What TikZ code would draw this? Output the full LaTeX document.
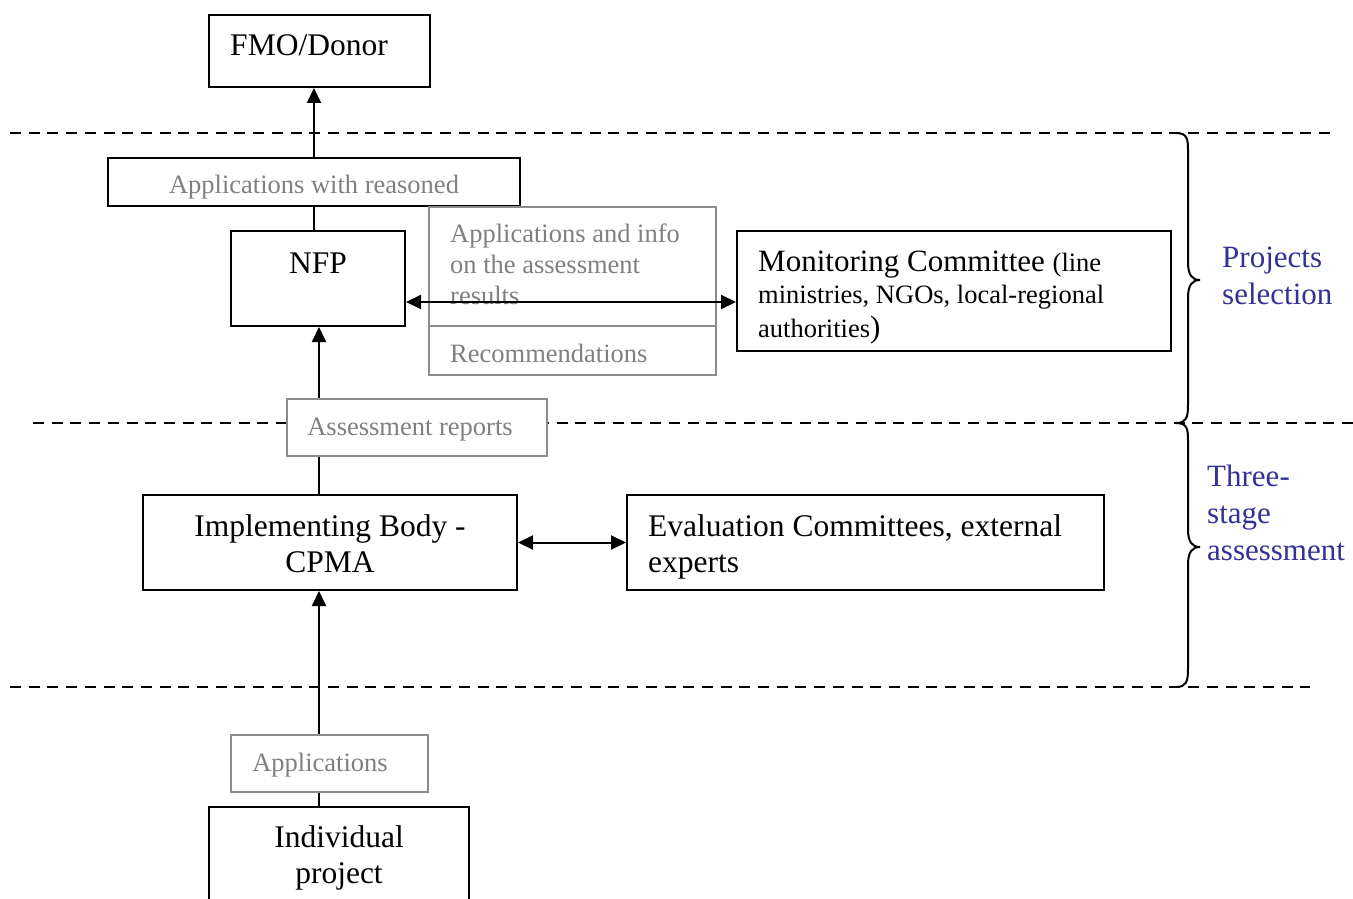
\documentclass[tikz,border=0pt]{standalone}
\usepackage{fontspec}
\setmainfont{Liberation Serif}
\usetikzlibrary{arrows.meta,backgrounds}
\definecolor{lblgray}{RGB}{128,128,128}
\definecolor{boxgray}{RGB}{140,140,140}
\definecolor{navyblue}{RGB}{50,50,150}
\tikzset{
  blackbox/.style={draw=black, line width=2pt, inner sep=0pt},
  graybox/.style={draw=boxgray, line width=1.8pt, inner sep=0pt},
  whitefill/.style={fill=white},
  bigtxt/.style={inner sep=0pt, font=\fontsize{31.5}{36}\selectfont},
  midtxt/.style={inner sep=0pt, font=\fontsize{26.5}{31}\selectfont},
  graytxt/.style={inner sep=0pt, text=lblgray, font=\fontsize{26.5}{31}\selectfont},
  bluetxt/.style={inner sep=0pt, text=navyblue, font=\fontsize{31}{36}\selectfont},
  sepline/.style={line width=2.5pt, dash pattern=on 11pt off 7.7pt},
  conn/.style={line width=2pt},
  arr/.style={conn, -{Triangle[length=15pt,width=14pt]}},
  dblarr/.style={conn, {Triangle[length=15pt,width=14pt]}-{Triangle[length=15pt,width=14pt]}},
  bracepath/.style={line width=2pt}
}
\begin{document}
\begin{tikzpicture}[x=1pt,y=-1pt]
\useasboundingbox (0,0) rectangle (1353,899);
\clip (0,0) rectangle (1353,899);

% boxes
\node[blackbox, minimum width=221pt, minimum height=72pt] (fmo) at (319.5,51) {};
\node[blackbox, whitefill, minimum width=412pt, minimum height=48pt] (reasoned) at (314,182) {};
\node[blackbox, minimum width=174pt, minimum height=95pt] (nfp) at (318,278.5) {};
\node[graybox, minimum width=287pt, minimum height=119pt] (info) at (572.5,266.5) {};
\node[graybox, minimum width=287pt, minimum height=49pt] (rec) at (572.5,350.5) {};
\node[blackbox, minimum width=434pt, minimum height=120pt] (mon) at (954,291) {};
\node[graybox, whitefill, minimum width=260pt, minimum height=57pt] (assess) at (417,427.5) {};
\node[blackbox, minimum width=374pt, minimum height=95pt] (impl) at (330,542.5) {};
\node[blackbox, minimum width=477pt, minimum height=95pt] (eval) at (865.5,542.5) {};
\node[graybox, whitefill, minimum width=197pt, minimum height=57pt] (apps) at (329.5,763.5) {};
\node[blackbox, minimum width=260pt, minimum height=113pt] (indiv) at (339,863.5) {};

\coordinate (col) at (319,0);
\coordinate (row) at (0,302);

% background: separators and vertical connectors
\begin{scope}[on background layer]
  \fill[white] (0,0) rectangle (1353,899);
  \draw[sepline] (10,133) -- (1330,133);
  \draw[sepline] (33,423) -- (1353,423);
  \draw[sepline] (10,687) -- (1310,687);
  \draw[arr] (reasoned.north) -- (reasoned.north |- fmo.south);
  \draw[conn] (reasoned.south) -- (reasoned.south |- nfp.north);
  \draw[arr] (col |- assess.north) -- (col |- nfp.south);
  \draw[conn] (col |- assess.south) -- (col |- impl.north);
  \draw[arr] (col |- apps.north) -- (col |- impl.south);
  \draw[conn] (col |- apps.south) -- (col |- indiv.north);
\end{scope}

% texts
\node[bigtxt, anchor=base] (tfmo) at (309,56) {FMO/Donor};
\node[graytxt, anchor=base] (treas) at (314,193) {Applications with reasoned};
\node[bigtxt, anchor=base] (tnfp) at (318,273) {NFP};
\node[graytxt, anchor=base west] (tinfoa) at (450,242) {Applications and info};
\node[graytxt, anchor=base west] (tinfob) at (450,273) {on the assessment};
\node[graytxt, anchor=base west] (tinfoc) at (450,304) {results};
\node[graytxt, anchor=base west] (trec) at (450,362) {Recommendations};
\node[anchor=base west, inner sep=0pt] (tmona) at (758,271)
  {\fontsize{31}{36}\selectfont Monitoring Committee \fontsize{26.5}{31}\selectfont(line};
\node[midtxt, anchor=base west] (tmonb) at (758,303) {ministries, NGOs, local-regional};
\node[anchor=base west, inner sep=0pt] (tmonc) at (758,337)
  {\fontsize{26.5}{31}\selectfont authorities\fontsize{31}{36}\selectfont)};
\node[graytxt, anchor=base] (tassess) at (410,435) {Assessment reports};
\node[bigtxt, anchor=base] (timpla) at (330,536) {Implementing Body -};
\node[bigtxt, anchor=base] (timplb) at (330,572) {CPMA};
\node[bigtxt, anchor=base west] (tevala) at (648,536) {Evaluation Committees, external};
\node[bigtxt, anchor=base west] (tevalb) at (648,572) {experts};
\node[graytxt, anchor=base] (tapps) at (320,771) {Applications};
\node[bigtxt, anchor=base] (tindiva) at (339,847) {Individual};
\node[bigtxt, anchor=base] (tindivb) at (339,883) {project};
\node[bluetxt, anchor=base west] (tproja) at (1222,267) {Projects};
\node[bluetxt, anchor=base west] (tprojb) at (1222,304) {selection};
\node[bluetxt, anchor=base west] (tthra) at (1207,486) {Three-};
\node[bluetxt, anchor=base west] (tthrb) at (1207,523) {stage};
\node[bluetxt, anchor=base west] (tthrc) at (1207,560) {assessment};

% horizontal double arrows
\draw[dblarr] (nfp.east |- row) -- (mon.west |- row);
\draw[dblarr] (impl.east) -- (eval.west);

% braces
\draw[bracepath] (1176,133) .. controls (1188,133) and (1188,140) .. (1188,152)
  -- (1188,262) .. controls (1188,275) and (1192,280) .. (1200,280)
  .. controls (1192,280) and (1188,285) .. (1188,298)
  -- (1188,405) .. controls (1188,418) and (1186,423) .. (1176,423);
\draw[bracepath] (1176,423) .. controls (1188,423) and (1188,430) .. (1188,442)
  -- (1188,529) .. controls (1188,542) and (1192,547) .. (1200,547)
  .. controls (1192,547) and (1188,552) .. (1188,565)
  -- (1188,669) .. controls (1188,682) and (1186,687) .. (1176,687);
\end{tikzpicture}
\end{document}
